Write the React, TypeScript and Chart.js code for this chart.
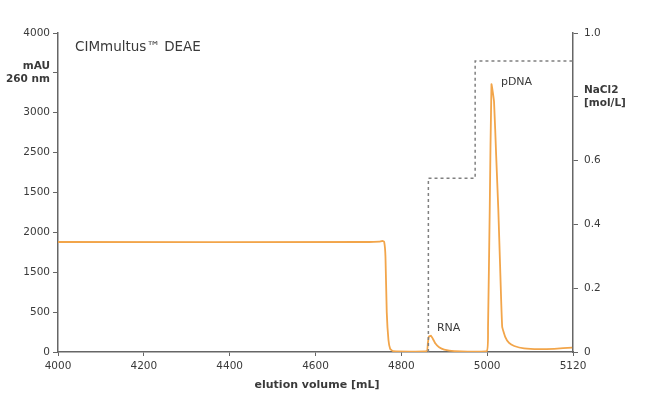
import React, { useEffect, useRef } from "react";
import { Chart, registerables } from "chart.js";

Chart.register(...registerables);

// Elution volume axis as drawn (equal tick spacing; last tick labelled 5120)
const xTickValues = [4000, 4200, 4400, 4600, 4800, 5000, 5200];
const xTickLabels = ["4000", "4200", "4400", "4600", "4800", "5000", "5120"];

// Left axis (mAU 260 nm) ticks and labels as printed in the reference
const yTickValues = [0, 500, 1000, 1500, 2000, 2500, 3000, 3500, 4000];
const yTickLabels: (string | string[])[] = ["0", "500", "1500", "2000", "1500", "2500", "3000", ["mAU", "260 nm"], "4000"];

// Right axis (NaCl2 mol/L)
const y2TickValues = [0, 0.2, 0.4, 0.6, 0.8, 1.0];
const y2TickLabels: (string | string[])[] = ["0", "0.2", "0.4", "0.6", ["NaCl2", "[mol/L]"], "1.0"];

// UV 260 nm absorbance trace
const uvVolume = [
  4000, 4725, 4749, 4756, 4760, 4763, 4766, 4770, 4774, 4781,
  4859, 4862, 4864, 4869, 4872, 4879, 4888, 4900, 4923,
  4999, 5002, 5006, 5010, 5016, 5021, 5026, 5030, 5035, 5042, 5051, 5063, 5086, 5121, 5156, 5198,
];
const uvSignal = [
  1379, 1379, 1385, 1392, 1380, 1200, 500, 150, 40, 10,
  10, 120, 190, 205, 180, 110, 60, 30, 12,
  12, 300, 1800, 3357, 3139, 2459, 1780, 1103, 317, 190, 113, 75, 45, 35, 40, 55,
];

// NaCl step gradient (dashed)
const saltVolume = [4863, 4863, 4972, 4972, 5200];
const saltConc = [0, 0.545, 0.545, 0.912, 0.912];

const FONT = "'DejaVu Sans', Verdana, sans-serif";
const TEXT = "#3a3a3a";
const AXIS = "#666666";

const annotations = {
  id: "annotations",
  afterDraw(chart: any) {
    const { ctx, scales } = chart;
    const x = scales.x;
    const y = scales.y;
    ctx.save();
    ctx.fillStyle = TEXT;
    ctx.textBaseline = "middle";
    ctx.font = `13.5px ${FONT}`;
    ctx.textAlign = "left";
    ctx.fillText("CIMmultus™ DEAE", 75, 47);
    ctx.font = `11px ${FONT}`;
    ctx.fillText("pDNA", x.getPixelForValue(5032), y.getPixelForValue(3380));
    ctx.fillText("RNA", x.getPixelForValue(4883), y.getPixelForValue(300));
    ctx.font = `bold 11px ${FONT}`;
    ctx.textAlign = "center";
    ctx.fillText("elution volume [mL]", 317, 385);
    ctx.restore();
  },
};

export default function App() {
  const ref = useRef<HTMLCanvasElement | null>(null);

  useEffect(() => {
    document.body.style.margin = "0";
    const canvas = ref.current!;
    const tickFont = (ctx: any) =>
      Array.isArray(ctx.tick?.label)
        ? { family: FONT, size: 10.5, weight: "bold" as const, lineHeight: 1.3 }
        : { family: FONT, size: 10.5 };

    const chart = new Chart(canvas, {
      type: "line",
      data: {
        datasets: [
          {
            label: "NaCl",
            data: saltVolume.map((v, i) => ({ x: v, y: saltConc[i] })),
            yAxisID: "y2",
            borderColor: "#808080",
            borderWidth: 1.5,
            borderDash: [3, 3],
            pointRadius: 0,
            tension: 0,
            fill: false,
          },
          {
            label: "UV 260 nm",
            data: uvVolume.map((v, i) => ({ x: v, y: uvSignal[i] })),
            yAxisID: "y",
            borderColor: "#F2A54A",
            borderWidth: 1.8,
            pointRadius: 0,
            tension: 0.12,
            fill: false,
          },
        ],
      },
      options: {
        animation: false,
        responsive: false,
        maintainAspectRatio: false,
        layout: { padding: { top: 33, left: 0, right: 0, bottom: 0 } },
        plugins: { legend: { display: false }, tooltip: { enabled: false } },
        scales: {
          x: {
            type: "linear",
            min: 4000,
            max: 5200,
            afterBuildTicks: (s: any) => {
              s.ticks = xTickValues.map((v) => ({ value: v }));
            },
            afterFit: (s: any) => {
              s.height = 44;
            },
            ticks: {
              autoSkip: false,
              maxRotation: 0,
              padding: 4,
              color: TEXT,
              font: { family: FONT, size: 10.5 },
              callback: (_v: any, i: number) => xTickLabels[i],
            },
            grid: { drawOnChartArea: false, drawTicks: true, tickLength: 4, color: AXIS },
            border: { display: true, color: AXIS, width: 1.5 },
          },
          y: {
            type: "linear",
            position: "left",
            min: 0,
            max: 4000,
            afterBuildTicks: (s: any) => {
              s.ticks = yTickValues.map((v) => ({ value: v }));
            },
            afterFit: (s: any) => {
              s.width = 58;
            },
            ticks: {
              autoSkip: false,
              padding: 3,
              color: TEXT,
              font: tickFont as any,
              callback: (_v: any, i: number) => yTickLabels[i] as any,
            },
            grid: { drawOnChartArea: false, drawTicks: true, tickLength: 5, color: AXIS },
            border: { display: true, color: AXIS, width: 1.5 },
          },
          y2: {
            type: "linear",
            position: "right",
            min: 0,
            max: 1,
            afterBuildTicks: (s: any) => {
              s.ticks = y2TickValues.map((v) => ({ value: v }));
            },
            afterFit: (s: any) => {
              s.width = 77;
            },
            ticks: {
              autoSkip: false,
              padding: 6,
              color: TEXT,
              font: tickFont as any,
              callback: (_v: any, i: number) => y2TickLabels[i] as any,
            },
            grid: { drawOnChartArea: false, drawTicks: true, tickLength: 5, color: AXIS },
            border: { display: true, color: AXIS, width: 1.5 },
          },
        },
      },
      plugins: [annotations],
    });
    return () => chart.destroy();
  }, []);

  return (
    <div style={{ width: 650, height: 396, background: "#fff" }}>
      <canvas ref={ref} width={650} height={396} style={{ display: "block" }} />
    </div>
  );
}
